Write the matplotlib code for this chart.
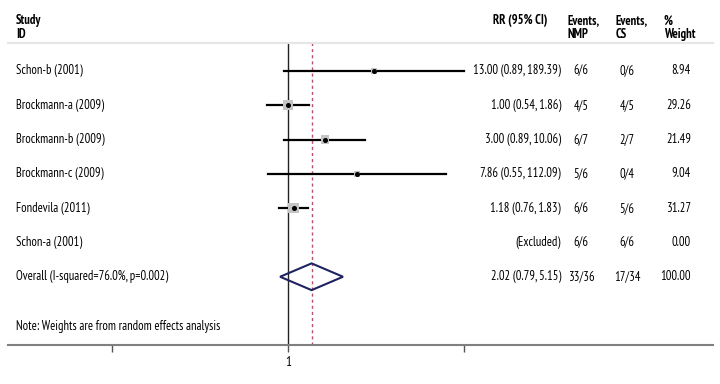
import numpy as np
import matplotlib
matplotlib.use('Agg')
import matplotlib.pyplot as plt
from matplotlib.transforms import blended_transform_factory

plt.rcParams['font.family'] = ['PT Sans Narrow', 'DejaVu Sans']

# -----------------------------
# data
# -----------------------------
studies = ['Schon-b (2001)', 'Brockmann-a (2009)', 'Brockmann-b (2009)',
           'Brockmann-c (2009)', 'Fondevila (2011)', 'Schon-a (2001)']
rr = [13.00, 1.00, 3.00, 7.86, 1.18, np.nan]
lo = [0.89, 0.54, 0.89, 0.55, 0.76, np.nan]
hi = [189.39, 1.86, 10.06, 112.09, 1.83, np.nan]
rr_text = ['13.00 (0.89, 189.39)', '1.00 (0.54, 1.86)', '3.00 (0.89, 10.06)',
           '7.86 (0.55, 112.09)', '1.18 (0.76, 1.83)', '(Excluded)']
ev_nmp = ['6/6', '4/5', '6/7', '5/6', '6/6', '6/6']
ev_cs = ['0/6', '4/5', '2/7', '0/4', '5/6', '6/6']
weights = [8.94, 29.26, 21.49, 9.04, 31.27, 0.00]

overall_label = 'Overall (I-squared=76.0%, p=0.002)'
overall = (2.02, 0.79, 5.15)
overall_text = '2.02 (0.79, 5.15)'
overall_nmp, overall_cs, overall_w = '33/36', '17/34', '100.00'

tick_vals = [1 / 189.39, 1, 189.39]
tick_labels = ['', '1', '']

# -----------------------------
# figure
# -----------------------------
W, H = 720, 384
fig = plt.figure(figsize=(7.2, 3.84), dpi=100)
ax = fig.add_axes([8 / W, 1 - 345 / H, 705 / W, 302 / H])

ax.set_xscale('log')
ppd = 176 / np.log10(189.39)  # pixels per decade
ax.set_xlim(10 ** ((8 - 288) / ppd), 10 ** ((713 - 288) / ppd))
ax.set_ylim(7.99, -0.816)

rows = np.arange(len(studies))

# reference lines
ax.axvline(1, color='#222222', linewidth=1.0, zorder=1)
ax.axvline(overall[0], color='#b8506a', linewidth=1.0, linestyle=(0, (2.2, 2.2)), zorder=1)

# study estimates
for i in rows:
    if np.isnan(rr[i]):
        continue
    ax.plot([lo[i], hi[i]], [i, i], color='black', linewidth=1.6, zorder=2)
    ax.scatter(rr[i], i, marker='s', s=1.8 * weights[i], color='#c4c4c4',
               edgecolors='none', zorder=3)
    ax.plot(rr[i], i, 'o', color='black', markersize=2.6, zorder=4)

# overall diamond
yo = len(studies)
dh = 0.39
ax.fill([overall[1], overall[0], overall[2], overall[0]],
        [yo, yo - dh, yo, yo + dh],
        facecolor='none', edgecolor='#1e2460', linewidth=1.5, zorder=3)

# axes styling
for s in ['left', 'right']:
    ax.spines[s].set_visible(False)
ax.spines['top'].set_color('#e6e6e6')
ax.spines['top'].set_linewidth(1.5)
ax.spines['bottom'].set_color('#808080')
ax.spines['bottom'].set_linewidth(1.5)
ax.set_yticks([])
ax.set_xticks(tick_vals)
ax.set_xticklabels(tick_labels)
ax.minorticks_off()
ax.tick_params(axis='x', direction='out', length=5, width=1, color='#555555',
               labelsize=9.5, pad=3)

# -----------------------------
# text columns
# -----------------------------
tr = blended_transform_factory(fig.transFigure, ax.transData)
fs = 9


def px(x):
    return x / W


def txt(x, y, s, ha='left', bold=False):
    ax.text(px(x), y, s, transform=tr, ha=ha, va='center', fontsize=fs,
            fontweight='bold' if bold else 'normal', clip_on=False)


# headers
hy1, hy2 = -1.46, -1.05
txt(16, hy1, 'Study', bold=True)
txt(16, hy2, 'ID', bold=True)
txt(520, hy1, 'RR (95% CI)', ha='center', bold=True)
txt(568, hy1, 'Events,', bold=True)
txt(568, hy2, 'NMP', bold=True)
txt(616, hy1, 'Events,', bold=True)
txt(616, hy2, 'CS', bold=True)
txt(664, hy1, '%', bold=True)
txt(664, hy2, 'Weight', bold=True)

for i in rows:
    txt(16, i, studies[i])
    txt(561, i, rr_text[i], ha='right')
    txt(581, i, ev_nmp[i], ha='center')
    txt(627, i, ev_cs[i], ha='center')
    txt(691, i, '%.2f' % weights[i], ha='right')

txt(16, yo, overall_label)
txt(561, yo, overall_text, ha='right')
txt(581, yo, overall_nmp, ha='center')
txt(627, yo, overall_cs, ha='center')
txt(691, yo, overall_w, ha='right')

txt(16, 7.46, 'Note: Weights are from random effects analysis')

plt.savefig('out.png', dpi=100)
